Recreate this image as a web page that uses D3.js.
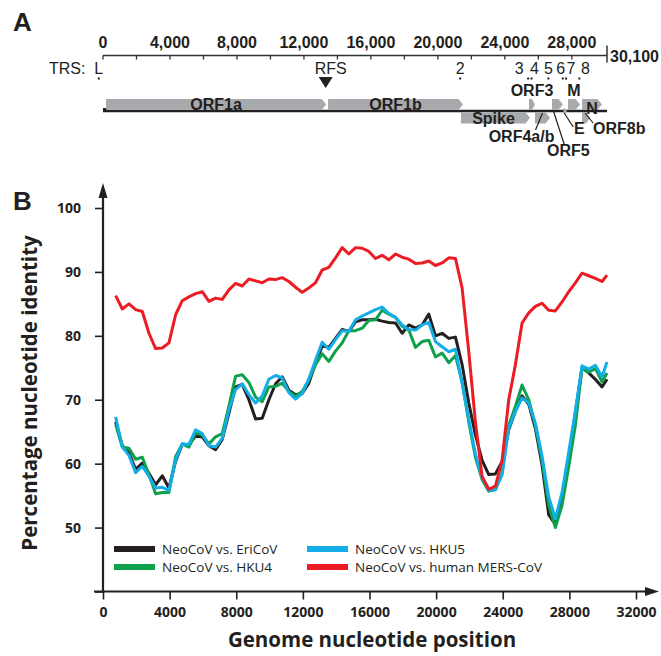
<!DOCTYPE html>
<html><head><meta charset="utf-8">
<script src="https://cdn.jsdelivr.net/npm/d3@7/dist/d3.min.js"></script>
<style>body{margin:0;background:#fff}svg{display:block}</style>
</head><body><svg id="c" width="661" height="656"></svg>
<script>
// ---------------- DATA ----------------
const positions = [760,1160,1560,1960,2360,2760,3160,3560,3960,4360,4760,5160,5560,5960,6360,6760,7160,7560,7960,8360,8760,9160,9560,9960,10360,10760,11160,11560,11960,12360,12760,13160,13560,13960,14360,14760,15160,15560,15960,16360,16760,17160,17560,17960,18360,18760,19160,19560,19960,20360,20760,21160,21560,21960,22360,22760,23160,23560,23960,24360,24760,25160,25560,25960,26360,26760,27160,27560,27960,28360,28760,29160,29560,29960,30260];
const ericov = [66.6,62.8,61.7,59.1,60.1,58.5,56.7,58.1,56.2,60.4,63.0,63.0,64.3,64.2,62.8,62.2,63.8,67.9,72.0,72.4,70.0,67.0,67.1,70.0,72.5,73.6,71.5,70.8,71.0,72.6,75.7,78.4,78.2,79.6,81.0,80.7,82.2,82.5,82.5,82.6,82.3,82.1,82.0,80.4,81.7,81.2,81.7,83.4,80.0,80.4,79.6,79.8,75.5,69.5,64.5,60.5,58.3,58.4,60.3,65.3,68.2,70.6,69.3,65.5,59.8,52.0,50.5,54.5,61.0,68.0,75.0,74.2,73.2,72.0,73.2];
const hku4 = [66.1,62.6,62.4,60.7,61.0,58.3,55.3,55.5,55.5,61.1,63.1,62.6,64.8,64.5,63.1,64.2,64.7,69.0,73.7,73.9,72.7,70.4,69.7,72.0,72.1,72.6,71.3,70.6,71.3,73.1,75.5,77.2,76.0,77.6,78.9,80.8,80.8,81.2,82.4,82.5,84.0,83.4,82.9,81.5,80.9,78.2,79.1,79.3,76.7,77.3,75.8,76.9,72.8,66.5,61.0,57.5,55.7,55.9,58.5,66.0,69.0,72.3,70.0,66.0,60.5,53.5,50.0,53.5,59.5,66.0,75.0,74.3,74.9,72.8,74.2];
const hku5 = [67.3,62.6,61.3,58.6,59.6,58.0,56.2,56.3,55.8,60.6,63.1,63.0,65.3,64.7,62.8,62.6,64.0,68.4,71.6,72.5,70.8,69.5,70.6,73.2,73.8,73.4,71.1,70.1,71.0,73.3,76.2,79.0,77.9,79.4,80.8,80.7,82.5,83.1,83.6,84.1,84.5,83.5,82.9,81.7,81.0,80.9,81.7,82.1,79.1,78.3,77.5,77.9,72.5,67.0,61.5,57.8,55.8,56.0,58.3,65.5,68.2,70.3,69.5,66.3,61.2,54.8,51.4,55.5,61.8,68.2,75.3,74.8,75.4,73.6,75.9];
const mers = [86.3,84.2,85.0,84.1,83.8,80.4,78.0,78.1,78.9,83.3,85.5,86.1,86.6,86.9,85.4,85.9,85.7,87.2,88.2,87.8,88.9,88.6,88.3,88.9,88.8,89.1,88.5,87.6,86.8,87.5,88.3,90.3,90.7,92.2,93.8,92.8,93.8,93.7,93.2,92.1,92.6,91.9,92.8,92.3,92.0,91.3,91.4,91.7,91.0,91.4,92.2,92.1,87.5,77.5,66.5,58.0,56.0,56.5,60.5,70.0,75.5,82.0,83.6,84.6,85.1,84.0,83.9,85.3,86.9,88.3,89.8,89.4,89.0,88.5,89.5];
const seriesNames = ["NeoCoV vs. EriCoV","NeoCoV vs. HKU4","NeoCoV vs. HKU5","NeoCoV vs. human MERS-CoV"];
const seriesColors = ["#231f20","#0ea14b","#13aee8","#ec1c24"];
const xTicks = [0,4000,8000,12000,16000,20000,24000,28000,32000];
const yTicks = [40,50,60,70,80,90,100];
const genomeLength = 30100;
const genomeMinorTicks = [0,2000,4000,6000,8000,10000,12000,14000,16000,18000,20000,22000,24000,26000,28000];
const genomeLabelTicks = [0,4000,8000,12000,16000,20000,24000,28000];
const geneNames = ["ORF1a","ORF1b","Spike","ORF3","ORF4a/b","ORF5","E","M","N","ORF8b"];
const geneStart = [180,13440,21380,25440,25800,26810,27500,27770,28610,28610];
const geneEnd   = [13330,21500,25500,25800,26700,27470,27710,28490,29800,29090];
const geneSide  = ["up","up","down","up","down","up","line","up","up","down"];
const trsNames = ["L","2","3","4","5","6","7","8"];
const trsSites = [-250,21330,25390,25590,26600,27460,27650,28450];
const rfsSite = 13300;

// ---------------- DRAW ----------------
const svg = d3.select("#c");
const ink = "#231f20";
const sansB = "'Liberation Sans', Arial, sans-serif";
const openB = "'Open Sans', sans-serif";

// Panel letters
svg.append("text").attr("x",13).attr("y",31).text("A")
  .attr("font-family",sansB).attr("font-weight","bold").attr("font-size",26).attr("fill",ink);
svg.append("text").attr("x",13).attr("y",210).text("B")
  .attr("font-family",sansB).attr("font-weight","bold").attr("font-size",26).attr("fill",ink);

// ---------- Panel A ----------
const gx = d3.scaleLinear().domain([0,genomeLength]).range([103,607]);
const A = svg.append("g");
const axisY = 55.5;
A.append("line").attr("x1",gx(0)).attr("x2",gx(genomeLength)).attr("y1",axisY).attr("y2",axisY)
  .attr("stroke","#333").attr("stroke-width",1.5);
A.selectAll("line.mt").data(genomeMinorTicks).join("line").attr("class","mt")
  .attr("x1",d=>gx(d)).attr("x2",d=>gx(d)).attr("y1",axisY).attr("y2",axisY+4)
  .attr("stroke","#333").attr("stroke-width",1.3);
A.selectAll("text.gl").data(genomeLabelTicks).join("text").attr("class","gl")
  .attr("x",d=>gx(d)).attr("y",axisY-8).attr("text-anchor","middle")
  .attr("font-family",sansB).attr("font-weight","bold").attr("font-size",16).attr("fill",ink)
  .text(d=>d3.format(",")(d));
A.append("line").attr("x1",gx(genomeLength)).attr("x2",gx(genomeLength)).attr("y1",axisY-10).attr("y2",axisY+7)
  .attr("stroke","#333").attr("stroke-width",1.5);
A.append("text").attr("x",gx(genomeLength)+3).attr("y",axisY+6)
  .attr("font-family",sansB).attr("font-weight","bold").attr("font-size",16).attr("fill",ink)
  .text(d3.format(",")(genomeLength));

// TRS row
const trsY = 73.5;
A.append("text").attr("x",49).attr("y",trsY).text("TRS:")
  .attr("font-family",sansB).attr("font-size",16).attr("fill",ink);
const trsLabelDx = [0,0,-9,3,0,-2,5,6];
A.selectAll("text.trs").data(trsNames).join("text").attr("class","trs")
  .attr("x",(d,i)=>gx(trsSites[i])+trsLabelDx[i]).attr("y",trsY).attr("text-anchor","middle")
  .attr("font-family",sansB).attr("font-size",16).attr("fill",ink).text(d=>d);
A.selectAll("rect.trsd").data(trsSites).join("rect").attr("class","trsd")
  .attr("x",d=>gx(d)-1).attr("y",77.5).attr("width",2).attr("height",2).attr("fill",ink);
// RFS
A.append("text").attr("x",gx(rfsSite)+5).attr("y",trsY).attr("text-anchor","middle")
  .attr("font-family",sansB).attr("font-size",16).attr("fill",ink).text("RFS");
A.append("path").attr("d",`M${gx(rfsSite)-7},77 L${gx(rfsSite)+7},77 L${gx(rfsSite)},88 Z`).attr("fill",ink);

// genome line
const lineY = 111;
A.append("line").attr("x1",gx(0)).attr("x2",gx(genomeLength)).attr("y1",lineY).attr("y2",lineY)
  .attr("stroke",ink).attr("stroke-width",2.6);
A.append("rect").attr("x",gx(0)).attr("y",lineY-3).attr("width",4).attr("height",4).attr("fill",ink);

// genes
function genePath(i){
  const x0 = gx(geneStart[i]), x1 = gx(geneEnd[i]);
  let y0, y1;
  if (geneSide[i]==="up"){ y0 = 99; y1 = 109.8; }
  else if (geneSide[i]==="down"){ y0 = 112.2; y1 = 123.5; }
  else { y0 = 108.5; y1 = 113.5; }
  const tip = Math.min(4.5, (x1-x0)*0.5);
  const ym = (y0+y1)/2;
  return `M${x0},${y0} L${x1-tip},${y0} L${x1},${ym} L${x1-tip},${y1} L${x0},${y1} Z`;
}
A.selectAll("path.gene").data(geneNames).join("path").attr("class","gene")
  .attr("d",(d,i)=>genePath(i)).attr("fill","#a7a9ac");

// gene labels
const gl = {
  "ORF1a":[0,109.5,"middle"], "ORF1b":[0,109.5,"middle"], "Spike":[-2,124,"middle"],
  "ORF3":[0,96,"middle"], "M":[0,96,"middle"], "N":[0,114,"middle"],
  "ORF4a/b":[-21,141.5,"middle"], "E":[14,133.5,"middle"], "ORF8b":[0,133.5,"start"], "ORF5":[11,155.5,"middle"]
};
geneNames.forEach((n,i)=>{
  const cx = n==="ORF8b" ? gx(geneStart[i])+11 : (gx(geneStart[i])+gx(geneEnd[i]))/2;
  const s = gl[n];
  A.append("text").attr("x",cx+s[0]).attr("y",s[1]).attr("text-anchor",s[2])
    .attr("font-family",sansB).attr("font-weight","bold").attr("font-size",16).attr("fill",ink).text(n);
});
// leader lines
const leaders = [["ORF4a/b",[0,2],[-7,19]],["ORF5",[-4,0],[7,34]],["E",[-1,2],[8,16]],["ORF8b",[-1,2],[7,12]]];
leaders.forEach(([n,a,b])=>{
  const i = geneNames.indexOf(n);
  const cx = (gx(geneStart[i])+gx(geneEnd[i]))/2;
  A.append("line").attr("x1",cx+a[0]).attr("y1",lineY+a[1]).attr("x2",cx+b[0]).attr("y2",lineY+b[1])
    .attr("stroke",ink).attr("stroke-width",1.2);
});

// ---------- Panel B ----------
const x = d3.scaleLinear().domain([0,32000]).range([103,636]);
const y = d3.scaleLinear().domain([40,100]).range([591.5,208]);
const B = svg.append("g");

const xAxis = B.append("g").attr("transform",`translate(0,${y(40)})`)
  .call(d3.axisBottom(x).tickValues(xTicks).tickSize(8).tickPadding(8).tickFormat(d3.format("d")));
const yAxis = B.append("g").attr("transform",`translate(${x(0)},0)`)
  .call(d3.axisLeft(y).tickValues(yTicks).tickSize(8).tickPadding(14).tickFormat(d=>d===40?"":d));
[xAxis,yAxis].forEach(a=>{
  a.select(".domain").remove();
  a.selectAll(".tick line").attr("stroke",ink).attr("stroke-width",1.6);
  a.selectAll(".tick text").attr("fill",ink).attr("font-family",openB).attr("font-weight","bold").attr("font-size",14);
});
// axis lines with arrows
B.append("line").attr("x1",94).attr("x2",648).attr("y1",y(40)).attr("y2",y(40)).attr("stroke",ink).attr("stroke-width",2.2);
B.append("path").attr("d",`M659,${y(40)} L645,${y(40)-4.5} L645,${y(40)+4.5} Z`).attr("fill",ink);
B.append("line").attr("x1",x(0)).attr("x2",x(0)).attr("y1",y(40)+1).attr("y2",194).attr("stroke",ink).attr("stroke-width",2.2);
B.append("path").attr("d",`M${x(0)},183 L${x(0)-4.5},198 L${x(0)+4.5},198 Z`).attr("fill",ink);

// titles
B.append("text").attr("x",372).attr("y",647).attr("text-anchor","middle")
  .attr("font-family",openB).attr("font-weight","bold").attr("font-size",20.5).attr("fill",ink)
  .text("Genome nucleotide position");
B.append("text").attr("transform","translate(37,393) rotate(-90)").attr("text-anchor","middle")
  .attr("font-family",openB).attr("font-weight","bold").attr("font-size",20.5).attr("fill",ink)
  .text("Percentage nucleotide identity");

// lines
const seriesValues = [ericov,hku4,hku5,mers];
const line = d3.line().x((d,i)=>x(positions[i])).y(d=>y(d));
B.selectAll("path.series").data(seriesValues).join("path").attr("class","series")
  .attr("d",d=>line(d)).attr("fill","none").attr("stroke",(d,i)=>seriesColors[i])
  .attr("stroke-width",3).attr("stroke-linejoin","round");

// legend
const legPos = [[114,549],[114,567],[307,549],[307,567]];
seriesNames.forEach((n,i)=>{
  const [lx,ly] = legPos[i];
  B.append("rect").attr("x",lx).attr("y",ly-3).attr("width",41).attr("height",6).attr("fill",seriesColors[i]);
  B.append("text").attr("x",lx+48).attr("y",ly+4.5).attr("font-family",openB).attr("font-size",13.5)
    .attr("fill",ink).text(n);
});
</script></body></html>
